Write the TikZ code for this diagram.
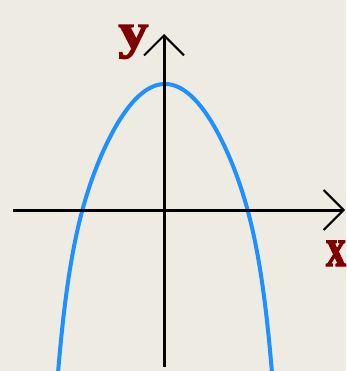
\documentclass[tikz,border=0pt]{standalone}
\usepackage{fontspec}
\usepackage{tikz}
\usetikzlibrary{arrows.meta}
\newfontfamily\labelfont{Liberation Serif}[BoldFeatures={FakeBold=2.5}]
\definecolor{paper}{RGB}{238,235,227}
\definecolor{curveblue}{RGB}{30,144,255}
\definecolor{labelred}{RGB}{128,0,0}
\tikzset{
  axisline/.style={line width=3pt, -{Straight Barb[length=20pt,width=40pt,line width=2pt]}},
  axislabel/.style={text=labelred, inner sep=0pt, font=\fontsize{50}{50}\labelfont\bfseries},
  curveline/.style={curveblue, line width=4pt},
}

\begin{document}
\begin{tikzpicture}[x=1pt, y=-1pt]
  % page and background
  \fill[paper] (0,0) rectangle (346,371);
  \useasboundingbox (0,0) rectangle (346,371);

  % parabola (vertex at (165,84), steeper in the tails)
  \draw[curveline] plot[domain=-1.07:1.07, samples=120, variable=\t]
    ({165+100*\t}, {84+175*\t*\t+45*(\t)^10});

  % axes
  \coordinate (xstart) at (13,210);
  \coordinate (xend)   at (345,210);
  \coordinate (ystart) at (164,367);
  \coordinate (yend)   at (164,34);
  \draw[axisline] (xstart) -- (xend);
  \draw[axisline] (ystart) -- (yend);

  % labels
  \node[axislabel, anchor=base, xscale=1.2] (ylabel) at (133.5,48) {y};
  \node[axislabel, anchor=base, xscale=0.8, yscale=1.1] (xlabel) at (336,266) {x};
\end{tikzpicture}
\end{document}
